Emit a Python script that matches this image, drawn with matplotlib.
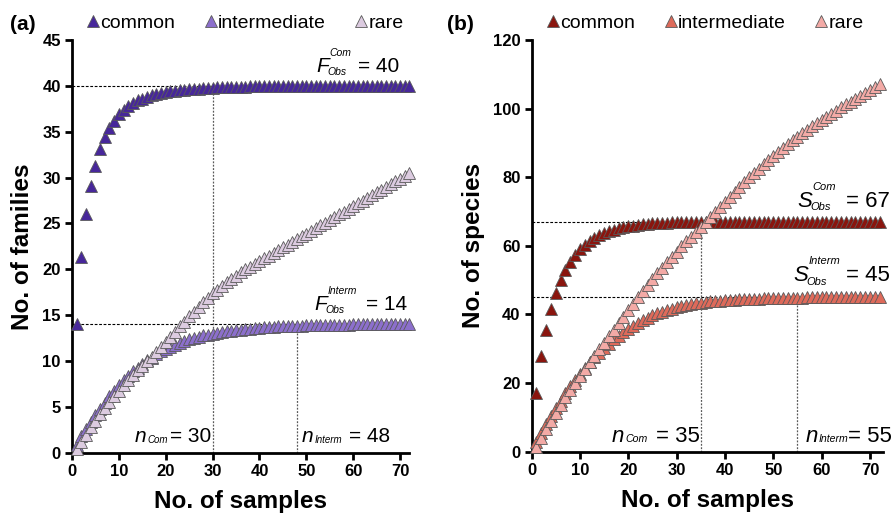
#!/usr/bin/env python3
import matplotlib
matplotlib.use("Agg")
import matplotlib.pyplot as plt
import numpy as np

# ---- data ----
fam_common = [14.0, 21.4, 26.0, 29.1, 31.3, 33.1, 34.4, 35.4, 36.2, 36.9,
              37.4, 37.8, 38.1, 38.4, 38.6, 38.8, 38.95, 39.1, 39.2, 39.3,
              39.38, 39.45, 39.5, 39.56, 39.6, 39.65, 39.7, 39.73, 39.76, 39.8,
              39.82, 39.84, 39.86, 39.88, 39.9, 39.91, 39.92, 39.93, 39.94, 39.95] + [40.0] * 32
fam_interm = [0.9, 1.8, 2.6, 3.4, 4.1, 4.8, 5.5, 6.2, 6.8, 7.4,
              7.9, 8.4, 8.9, 9.3, 9.7, 10.1, 10.4, 10.8, 11.1, 11.3,
              11.6, 11.8, 12.0, 12.2, 12.4, 12.5, 12.65, 12.8, 12.9, 13.0,
              13.1, 13.2, 13.25, 13.3, 13.4, 13.45, 13.5, 13.55, 13.6, 13.65,
              13.7, 13.72, 13.75, 13.78, 13.8, 13.82, 13.84, 13.86, 13.88, 13.9,
              13.91, 13.92, 13.93, 13.94, 13.95, 13.96, 13.97, 13.98, 13.99] + [14.0] * 13
fam_rare = [0.4, 1.2, 2.0, 2.8, 3.5, 4.2, 4.9, 5.6, 6.2, 6.8,
            7.4, 8.0, 8.5, 9.0, 9.5, 10.0, 10.5, 11.0, 11.6, 12.1,
            12.6, 13.2, 13.8, 14.3, 14.9, 15.4, 15.9, 16.4, 16.9, 17.4,
            17.8, 18.2, 18.6, 19.0, 19.3, 19.7, 20.0, 20.3, 20.6, 20.9,
            21.2, 21.5, 21.8, 22.1, 22.4, 22.7, 23.0, 23.3, 23.6, 23.9,
            24.2, 24.5, 24.8, 25.1, 25.4, 25.7, 26.0, 26.3, 26.6, 26.9,
            27.2, 27.5, 27.8, 28.1, 28.4, 28.7, 29.0, 29.3, 29.6, 29.9,
            30.2, 30.5]

sp_common = [17.0, 28.0, 35.6, 41.7, 46.2, 50.0, 53.0, 55.4, 57.4, 59.0,
             60.3, 61.4, 62.3, 63.0, 63.7, 64.2, 64.7, 65.1, 65.4, 65.7,
             65.9, 66.1, 66.3, 66.4, 66.5, 66.6, 66.7, 66.75, 66.8, 66.85,
             66.88, 66.9, 66.92, 66.94, 66.96, 66.97, 66.98, 66.99] + [67.0] * 34
sp_interm = [2.8, 5.5, 8.0, 10.4, 12.7, 14.9, 17.0, 19.0, 20.9, 22.7,
             24.4, 26.0, 27.5, 28.9, 30.2, 31.5, 32.7, 33.8, 34.8, 35.8,
             36.7, 37.5, 38.3, 39.0, 39.7, 40.3, 40.8, 41.3, 41.7, 42.1,
             42.4, 42.7, 43.0, 43.2, 43.4, 43.6, 43.8, 43.9, 44.0, 44.1,
             44.2, 44.3, 44.4, 44.45, 44.5, 44.55, 44.6, 44.65, 44.7, 44.75,
             44.8, 44.83, 44.86, 44.88, 44.9, 44.92, 44.94, 44.96, 44.98] + [45.0] * 13
sp_rare = [1.5, 4.0, 6.5, 9.0, 11.3, 13.6, 15.8, 18.0, 20.0, 22.0,
           24.0, 26.0, 27.9, 29.8, 31.7, 33.6, 35.5, 37.4, 39.3, 41.2,
           43.1, 45.0, 46.8, 48.6, 50.3, 52.0, 53.6, 55.2, 56.8, 58.3,
           59.8, 61.3, 62.7, 64.1, 65.5, 66.9, 68.4, 69.9, 71.4, 72.9,
           74.3, 75.7, 77.1, 78.5, 79.9, 81.2, 82.5, 83.8, 85.0, 86.2,
           87.4, 88.5, 89.6, 90.7, 91.8, 92.8, 93.8, 94.8, 95.8, 96.7,
           97.6, 98.5, 99.4, 100.3, 101.2, 102.0, 102.9, 103.7, 104.6, 105.4,
           106.2, 107.0]

series_names = ["common", "intermediate", "rare"]
fam_colors = ["#47279a", "#8c6fcc", "#dccbe0"]
sp_colors = ["#8a150e", "#de6a5a", "#f3aaa6"]

# observed richness / sample size where curves level off
fam_obs = {"Com": (40, 30), "Interm": (14, 48)}
sp_obs = {"Com": (67, 35), "Interm": (45, 55)}

plt.rcParams["font.family"] = ["Liberation Sans", "DejaVu Sans"]


def style_axes(ax, ymax, ystep, xmax):
    for side in ("top", "right"):
        ax.spines[side].set_visible(False)
    for side in ("left", "bottom"):
        ax.spines[side].set_linewidth(2.0)
    ax.set_xlim(0, xmax)
    ax.set_ylim(0, ymax)
    ax.set_xticks(np.arange(0, 71, 10))
    ax.set_yticks(np.arange(0, ymax + 1, ystep))
    ax.tick_params(direction="out", length=5, width=2, labelsize=12, pad=3)
    for lab in ax.get_xticklabels() + ax.get_yticklabels():
        lab.set_fontweight("bold")
    ax.set_xlabel("No. of samples", fontsize=17.5, fontweight="bold", labelpad=8)


def draw_series(ax, data, colors):
    handles = []
    for vals, col, name in zip(data, colors, series_names):
        x = np.arange(1, len(vals) + 1)
        h, = ax.plot(x, vals, linestyle="none", marker="^", markersize=8,
                     markerfacecolor=col, markeredgecolor="#5a5a5a",
                     markeredgewidth=0.6, clip_on=False, zorder=3, label=name)
        handles.append(h)
    return handles


def guide_lines(ax, obs):
    for key, (s, n) in obs.items():
        ax.plot([0, n], [s, s], color="black", lw=0.8, ls=(0, (2.5, 1.5)), zorder=1)
        ax.plot([n, n], [0, s], color="0.35", lw=0.9, ls=(0, (1.5, 1.2)), zorder=1)


def obs_label(ax, x, y, letter, sup, sub, tail, tail_x, size=15):
    # big italic letter, small stacked super/subscript, "= value" right-aligned
    small = size * 0.5
    t = ax.text(x, y, letter, fontsize=size, style="italic", ha="left", va="baseline")
    ax.annotate(sup, xy=(1, y), xycoords=(t, "data"), xytext=(0.3, 0.72 * size + 0.8),
                textcoords="offset points", fontsize=small, style="italic",
                ha="left", va="baseline")
    ax.annotate(sub, xy=(1, y), xycoords=(t, "data"), xytext=(-1.2, -2.3),
                textcoords="offset points", fontsize=small, style="italic",
                ha="left", va="baseline")
    ax.text(tail_x, y, tail, fontsize=size, ha="right", va="baseline")


def n_label(ax, x, y, sub, tail, tail_x, size=15):
    small = size * 0.47
    t = ax.text(x, y, "n", fontsize=size, style="italic", ha="left", va="baseline")
    ax.annotate(sub, xy=(1, y), xycoords=(t, "data"), xytext=(0.8, -0.3),
                textcoords="offset points", fontsize=small, style="italic",
                ha="left", va="baseline")
    ax.text(tail_x, y, tail, fontsize=size, ha="right", va="baseline")


def add_legend(ax, handles):
    ax.legend(handles=handles, ncol=3, frameon=False, loc="lower left",
              bbox_to_anchor=(0.025, 1.0), fontsize=14, handlelength=0.5,
              handletextpad=0.1, columnspacing=1.6, borderaxespad=0)


fig = plt.figure(figsize=(8.95, 5.18), dpi=100)
ax1 = fig.add_axes([0.0804, 0.1255, 0.3766, 0.7975])
ax2 = fig.add_axes([0.5940, 0.1280, 0.3926, 0.7950])

# ---- (a) families ----
style_axes(ax1, 45, 5, 71.9)
guide_lines(ax1, fam_obs)
h1 = draw_series(ax1, [fam_common, fam_interm, fam_rare], fam_colors)
ax1.set_ylabel("No. of families", fontsize=17.5, fontweight="bold", labelpad=6)
obs_label(ax1, 52.2, 41.5, "F", "Com", "Obs", "= 40", 69.9)
obs_label(ax1, 51.8, 15.6, "F", "Interm", "Obs", "= 14", 71.6)
n_label(ax1, 13.4, 1.15, "Com", "= 30", 29.7)
n_label(ax1, 49.0, 1.15, "Interm", "= 48", 67.8)
add_legend(ax1, h1)

# ---- (b) species ----
style_axes(ax2, 120, 20, 72.7)
guide_lines(ax2, sp_obs)
h2 = draw_series(ax2, [sp_common, sp_interm, sp_rare], sp_colors)
ax2.set_ylabel("No. of species", fontsize=17.5, fontweight="bold", labelpad=6)
obs_label(ax2, 54.9, 71.4, "S", "Com", "Obs", "= 67", 74.1, size=16)
obs_label(ax2, 54.2, 49.6, "S", "Interm", "Obs", "= 45", 74.1, size=16)
n_label(ax2, 16.6, 2.9, "Com", "= 35", 34.8, size=16)
n_label(ax2, 56.6, 2.9, "Interm", "= 55", 74.6, size=16)
add_legend(ax2, h2)

fig.text(0.011, 0.952, "(a)", fontsize=15, fontweight="bold", va="center")
fig.text(0.499, 0.952, "(b)", fontsize=15, fontweight="bold", va="center")

fig.savefig("out.png", dpi=100)
plt.close(fig)
